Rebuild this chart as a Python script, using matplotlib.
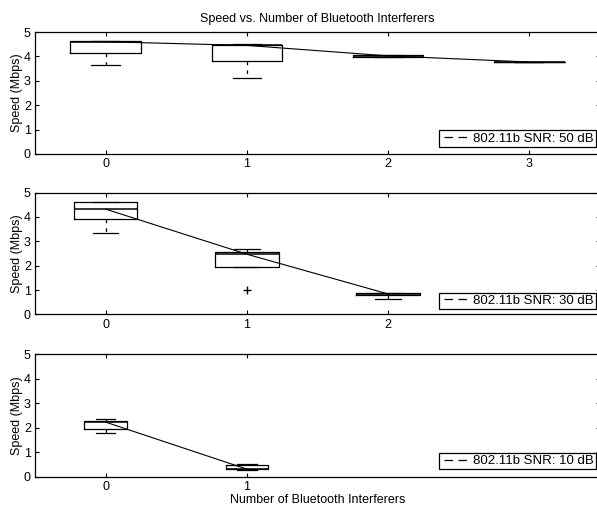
"""
Speed vs. number of Bluetooth interferers, three SNR levels (MATLAB-style boxplots).
"""
import matplotlib
matplotlib.use("Agg")
import matplotlib.pyplot as plt
from matplotlib.lines import Line2D

plt.rcParams.update({
    "font.family": ["Liberation Sans", "DejaVu Sans"],
    "font.size": 9,
    "xtick.direction": "in",
    "ytick.direction": "in",
    "xtick.major.size": 3,
    "ytick.major.size": 3,
    "xtick.major.pad": 3,
    "ytick.major.pad": 3,
    "axes.linewidth": 0.9,
})

# --- data (box statistics) ---
interferers_50 = [0, 1, 2, 3]
q1_50 = [4.12, 3.82, 3.98, 3.75]
med_50 = [4.60, 4.45, 4.02, 3.77]
q3_50 = [4.62, 4.47, 4.04, 3.78]
lo_50 = [3.65, 3.12, 3.98, 3.75]
hi_50 = [4.63, 4.50, 4.05, 3.78]
fliers_50 = [[], [], [], []]

interferers_30 = [0, 1, 2]
q1_30 = [3.93, 1.96, 0.78]
med_30 = [4.32, 2.47, 0.84]
q3_30 = [4.60, 2.55, 0.87]
lo_30 = [3.33, 1.96, 0.62]
hi_30 = [4.63, 2.67, 0.87]
fliers_30 = [[], [1.0], []]

interferers_10 = [0, 1]
q1_10 = [1.95, 0.30]
med_10 = [2.23, 0.31]
q3_10 = [2.28, 0.47]
lo_10 = [1.77, 0.27]
hi_10 = [2.37, 0.52]
fliers_10 = [[], []]

labels = ["802.11b SNR: 50 dB", "802.11b SNR: 30 dB", "802.11b SNR: 10 dB"]
yticks = [0, 1, 2, 3, 4, 5]

panels = [
    (interferers_50, q1_50, med_50, q3_50, lo_50, hi_50, fliers_50, 0.50, 0.20),
    (interferers_30, q1_30, med_30, q3_30, lo_30, hi_30, fliers_30, 0.45, 0.18),
    (interferers_10, q1_10, med_10, q3_10, lo_10, hi_10, fliers_10, 0.30, 0.14),
]
positions = [
    [0.0586, 0.697, 0.9464, 0.240],
    [0.0586, 0.381, 0.9464, 0.240],
    [0.0586, 0.0616, 0.9464, 0.241],
]
legend_y = [0.06, 0.045, 0.06]

fig = plt.figure(figsize=(5.97, 5.08), dpi=100)

for i, (xs, q1, med, q3, lo, hi, fl, w, cw) in enumerate(panels):
    ax = fig.add_axes(positions[i])
    stats = []
    for k in range(len(xs)):
        stats.append({"q1": q1[k], "med": med[k], "q3": q3[k],
                      "whislo": lo[k], "whishi": hi[k], "fliers": fl[k]})
    ax.bxp(stats, positions=xs, widths=w, capwidths=cw,
           boxprops=dict(color="black", linewidth=0.9),
           whiskerprops=dict(color="black", linewidth=0.9, linestyle=(0, (3, 4))),
           capprops=dict(color="black", linewidth=0.9),
           medianprops=dict(color="black", linewidth=1.1),
           flierprops=dict(marker="+", markeredgecolor="black", markersize=6),
           manage_ticks=False)
    ax.plot(xs, med, color="black", linewidth=0.8)

    ax.set_xlim(-0.5, 3.5)
    ax.set_ylim(0, 5)
    ax.set_xticks(xs)
    ax.set_yticks(yticks)
    ax.tick_params(top=True, right=True, width=0.8)
    ax.set_ylabel("Speed (Mbps)", labelpad=0.5)

    # dashed handle with a small blank lead-in, like the MATLAB legend
    handle = Line2D([], [], color="black", linestyle=(8.8, (6.8, 4.4)), linewidth=0.9)
    leg = ax.legend([handle], [labels[i]], loc="lower right",
                    bbox_to_anchor=(0.993, legend_y[i]), borderaxespad=0,
                    fancybox=False, framealpha=1, edgecolor="black",
                    fontsize=9.5, handlelength=1.93, handletextpad=0.5,
                    borderpad=0.15)
    leg.get_frame().set_linewidth(0.9)

    if i == 0:
        ax.set_title("Speed vs. Number of Bluetooth Interferers", fontsize=9, pad=7)
    if i == 2:
        ax.set_xlabel("Number of Bluetooth Interferers", labelpad=1)

fig.savefig("out.png", dpi=100)
